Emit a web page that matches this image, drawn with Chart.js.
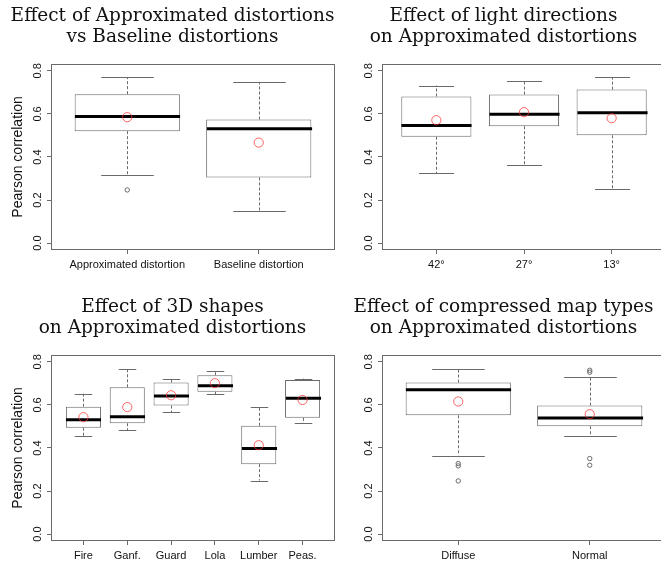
<!DOCTYPE html>
<html><head><meta charset="utf-8">
<script src="https://cdn.jsdelivr.net/npm/chart.js@4.4.1/dist/chart.umd.min.js"></script>
<style>
html,body{margin:0;padding:0;background:#fff;overflow:hidden;width:661px;height:562px;position:relative}
.p{position:absolute;width:335px;height:272px}
</style></head><body>
<div class="p" style="left:0;top:0"><canvas id="c1"></canvas></div>
<div class="p" style="left:331px;top:0"><canvas id="c2"></canvas></div>
<div class="p" style="left:0;top:291px"><canvas id="c3"></canvas></div>
<div class="p" style="left:331px;top:291px"><canvas id="c4"></canvas></div>
<script>
/* ---------- DATA ---------- */
const yTicks=[0,0.2,0.4,0.6,0.8];

const p1Title=["Effect of Approximated distortions","vs Baseline distortions"];
const p1Cats=["Approximated distortion","Baseline distortion"];
const p1Hi=[0.771,0.749], p1Q3=[0.692,0.574], p1Med=[0.588,0.531], p1Q1=[0.520,0.305], p1Lo=[0.317,0.151];
const p1Mean=[0.585,0.467];
const p1Out=[[0.247],[]];

const p2Title=["Effect of light directions","on Approximated distortions"];
const p2Cats=["42°","27°","13°"];
const p2Hi=[0.732,0.752,0.771], p2Q3=[0.681,0.690,0.713], p2Med=[0.546,0.599,0.605], p2Q1=[0.494,0.543,0.501], p2Lo=[0.325,0.365,0.251];
const p2Mean=[0.571,0.608,0.580];
const p2Out=[[],[],[]];

const p3Title=["Effect of 3D shapes","on Approximated distortions"];
const p3Cats=["Fire","Ganf.","Guard","Lola","Lumber","Peas."];
const p3Hi=[0.653,0.769,0.722,0.757,0.591,0.722];
const p3Q3=[0.592,0.682,0.704,0.738,0.503,0.716];
const p3Med=[0.531,0.545,0.642,0.689,0.398,0.631];
const p3Q1=[0.494,0.515,0.597,0.661,0.325,0.540];
const p3Lo=[0.455,0.483,0.565,0.650,0.249,0.515];
const p3Mean=[0.543,0.590,0.645,0.701,0.413,0.623];
const p3Out=[[],[],[],[],[],[]];

const p4Title=["Effect of compressed map types","on Approximated distortions"];
const p4Cats=["Diffuse","Normal"];
const p4Hi=[0.769,0.730], p4Q3=[0.704,0.597], p4Med=[0.671,0.539], p4Q1=[0.552,0.501], p4Lo=[0.365,0.455];
const p4Mean=[0.616,0.557];
const p4Out=[[0.328,0.317,0.247],[0.761,0.752,0.351,0.320]];

const GRAY="#6a6a6a", TXT="#111";

/* ---------- BOXPLOT PANEL ---------- */
function makeBox(id,title,cats,hi,q3,med,q1,lo,mean,outs,yTitle){
 let n=cats.length;
 let outPts=[];
 outs.forEach((a,i)=>a.forEach(v=>outPts.push({x:i+1,y:v})));

 // whiskers, caps, medians + plot frame
 let plug={
  id:"boxbits",
  beforeDatasetsDraw(ch){
   let a=ch.chartArea, ctx=ch.ctx;
   ctx.save();
   ctx.strokeStyle=GRAY; ctx.lineWidth=1;
   ctx.strokeRect(Math.round(a.left)+0.5,Math.round(a.top)+0.5,Math.round(a.right-a.left)-1,Math.round(a.bottom-a.top)-1);
   ctx.restore();
  },
  afterDatasetDraw(ch,args){
   if(args.meta.type!=="bar") return;
   let x=ch.scales.x, y=ch.scales.y, ctx=ch.ctx;
   let hw=x.getPixelForValue(1.4)-x.getPixelForValue(1);
   let ln=(x1,y1,x2,y2)=>{ctx.beginPath();ctx.moveTo(x1,y1);ctx.lineTo(x2,y2);ctx.stroke();};
   ctx.save();
   cats.forEach((c,i)=>{
    let cx=Math.round(x.getPixelForValue(i+1))+0.5;
    let yh=y.getPixelForValue(hi[i]), y3=y.getPixelForValue(q3[i]);
    let y1=y.getPixelForValue(q1[i]), yl=y.getPixelForValue(lo[i]);
    ctx.strokeStyle=GRAY; ctx.lineWidth=1;
    ctx.setLineDash([3,2]);
    ln(cx,y3,cx,yh); ln(cx,y1,cx,yl);
    ctx.setLineDash([]);
    ln(cx-hw/2,Math.round(yh)+0.5,cx+hw/2,Math.round(yh)+0.5);
    ln(cx-hw/2,Math.round(yl)+0.5,cx+hw/2,Math.round(yl)+0.5);
    ctx.strokeStyle="#000"; ctx.lineWidth=3;
    let ym=y.getPixelForValue(med[i]);
    ln(cx-hw,ym,cx+hw,ym);
   });
   ctx.restore();
  }
 };

 new Chart(document.getElementById(id),{
  type:"bar",
  data:{datasets:[
   {type:"scatter",order:1,data:cats.map((c,i)=>({x:i+1,y:mean[i]})),
    pointRadius:4.6,pointBorderWidth:1,pointBorderColor:"rgba(255,50,50,0.75)",pointBackgroundColor:"rgba(0,0,0,0)"},
   {type:"scatter",order:2,data:outPts,
    pointRadius:2.2,pointBorderWidth:1,pointBorderColor:GRAY,pointBackgroundColor:"rgba(0,0,0,0)"},
   {order:3,data:cats.map((c,i)=>({x:i+1,y:[q1[i],q3[i]]})),
    backgroundColor:"#fff",borderColor:GRAY,borderWidth:1,borderSkipped:false,
    barPercentage:0.8,categoryPercentage:1}
  ]},
  options:{
   responsive:true,maintainAspectRatio:false,animation:false,
   layout:{autoPadding:false,padding:{left:10,right:0,top:0,bottom:0}},
   plugins:{
    legend:{display:false},tooltip:{enabled:false},
    title:{display:true,text:title,color:TXT,
     font:{family:"DejaVu Serif",size:18.5,weight:"normal",lineHeight:1.17},
     padding:{top:5,bottom:15.7}}
   },
   scales:{
    x:{type:"linear",min:0.5-0.04*n,max:n+0.5+0.04*n,offset:false,
     afterBuildTicks:s=>{s.ticks=cats.map((c,i)=>({value:i+1}));},
     afterFit:s=>{s.height=22;},
     grid:{drawOnChartArea:false,drawTicks:true,tickLength:4,color:GRAY,offset:false},
     border:{display:false},
     ticks:{autoSkip:false,minRotation:0,maxRotation:0,padding:4,color:TXT,
      font:{family:"Liberation Sans",size:11},callback:(v,i)=>cats[i]}},
    y:{type:"linear",min:-0.032,max:0.832,
     afterBuildTicks:s=>{s.ticks=yTicks.map(v=>({value:v}));},
     afterFit:s=>{s.width=41;},
     grid:{drawOnChartArea:false,drawTicks:true,tickLength:4,color:GRAY},
     border:{display:false},
     ticks:{minRotation:90,maxRotation:90,crossAlign:"center",padding:1,color:TXT,
      font:{family:"Liberation Sans",size:11},callback:v=>v.toFixed(1)},
     title:{display:yTitle,text:"Pearson correlation",color:TXT,
      font:{family:"Liberation Sans",size:14},padding:{top:0,bottom:0}}}
   }
  },
  plugins:[plug]
 });
}

makeBox("c1",p1Title,p1Cats,p1Hi,p1Q3,p1Med,p1Q1,p1Lo,p1Mean,p1Out,true);
makeBox("c2",p2Title,p2Cats,p2Hi,p2Q3,p2Med,p2Q1,p2Lo,p2Mean,p2Out,false);
makeBox("c3",p3Title,p3Cats,p3Hi,p3Q3,p3Med,p3Q1,p3Lo,p3Mean,p3Out,true);
makeBox("c4",p4Title,p4Cats,p4Hi,p4Q3,p4Med,p4Q1,p4Lo,p4Mean,p4Out,false);
</script>
</body></html>
